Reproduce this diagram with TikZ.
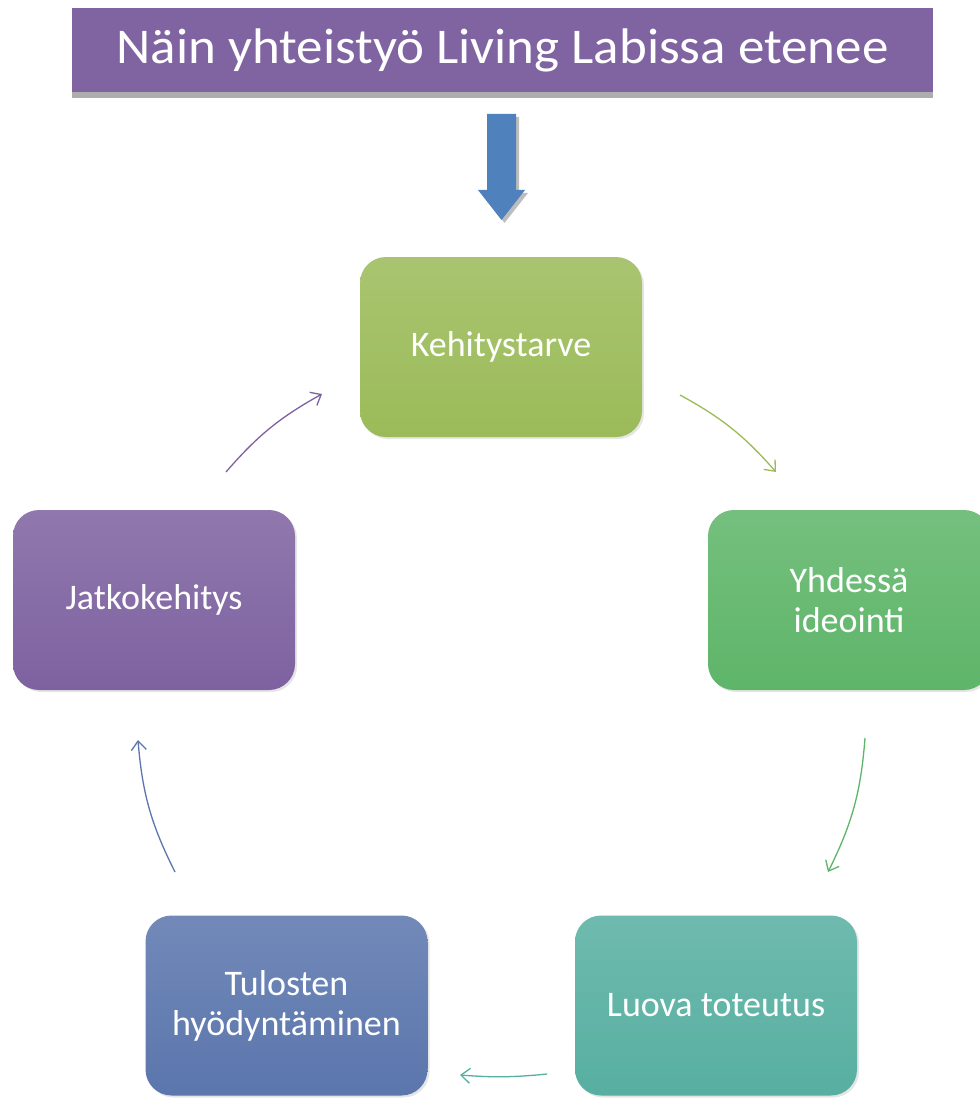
\documentclass[tikz,border=0pt]{standalone}
\usepackage{fontspec}
\setmainfont{Carlito}
\usepackage{graphicx}
\usepackage{tikz}
\usetikzlibrary{arrows.meta, positioning, shadows}

\definecolor{titlepurple}{HTML}{8064A2}
\definecolor{barshade}{HTML}{ADADAD}
\definecolor{downblue}{HTML}{4F81BD}
\definecolor{olivegreen}{HTML}{9BBB59}
\definecolor{leafgreen}{HTML}{5EB569}
\definecolor{seateal}{HTML}{57AFA1}
\definecolor{slateblue}{HTML}{5B76AD}
\definecolor{plum}{HTML}{7E62A0}

\begin{document}
\begin{tikzpicture}[
    x=1pt, y=-1pt,
    stage/.style={rectangle, rounded corners=26pt, minimum width=282pt, minimum height=180pt,
      align=center, text=white, font=\fontsize{36}{40}\selectfont,
      top color=#1!86!white, bottom color=#1, draw=none,
      drop shadow={opacity=0.2, shadow xshift=2pt, shadow yshift=-2pt}},
    flow/.style={draw=#1, line width=1.3pt, -{Straight Barb[length=9pt, width=15pt]}}
  ]
    \useasboundingbox (0,0) rectangle (979,1099);
    \fill[white] (0,0) rectangle (979,1099);

    \fill[barshade] (72,90) rectangle (933,98);
    \node[fill=titlepurple, minimum width=861pt, minimum height=84pt, inner sep=0pt,
      text=white, font=\fontsize{50}{56}\selectfont] (title) at (502.5,50) {\scalebox{1.06}[1]{Näin yhteistyö Living Labissa etenee}};

    \fill[barshade!80] (490,117) -- (519,117) -- (519,193) -- (528,193) -- (504.5,223) -- (481,193) -- (490,193) -- cycle;
    \fill[downblue] (487,114) -- (516,114) -- (516,190) -- (525,190) -- (501.5,220) -- (478,190) -- (487,190) -- cycle;

    \node[stage=olivegreen] (kt) at (501,347) {Kehitystarve};
    \node[stage=leafgreen] (yi) at (849,600) {Yhdessä\\ideointi};
    \node[stage=seateal] (lt) at (716,1005.5) {Luova toteutus};
    \node[stage=slateblue] (th) at (286.5,1005.5) {Tulosten\\hyödyntäminen};
    \node[stage=plum] (jk) at (154,600) {Jatkokehitys};

    \coordinate (kt-out) at (680,395);
    \coordinate (yi-in) at (776,472);
    \coordinate (yi-out) at (865,738);
    \coordinate (lt-in) at (828,872);
    \coordinate (lt-out) at (547,1074);
    \coordinate (th-in) at (460,1075);
    \coordinate (th-out) at (175,872);
    \coordinate (jk-in) at (138,740);
    \coordinate (jk-out) at (226,472);
    \coordinate (kt-in) at (322,394);

    \draw[flow=olivegreen] (kt-out) to[bend left=10] (yi-in);
    \draw[flow=leafgreen] (yi-out) to[bend left=11] (lt-in);
    \draw[flow=seateal] (lt-out) to[bend left=5] (th-in);
    \draw[flow=slateblue] (th-out) to[bend left=11] (jk-in);
    \draw[flow=plum] (jk-out) to[bend left=10] (kt-in);
  \end{tikzpicture}
\end{document}
